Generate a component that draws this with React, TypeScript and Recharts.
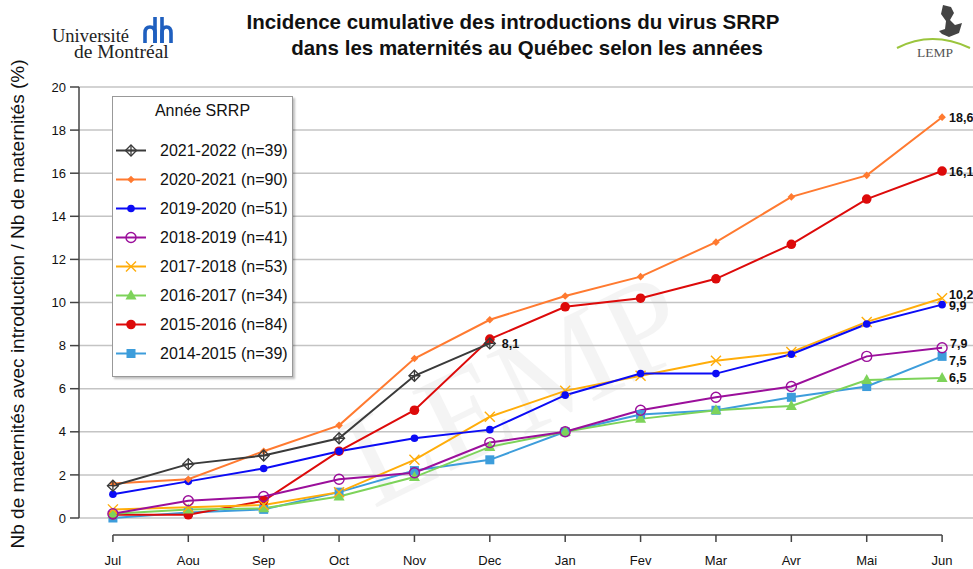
import React from 'react';
import { LineChart, Line, XAxis, YAxis, CartesianGrid, Legend, LabelList, ReferenceLine } from 'recharts';

const months = ['Jul', 'Aou', 'Sep', 'Oct', 'Nov', 'Dec', 'Jan', 'Fev', 'Mar', 'Avr', 'Mai', 'Jun'];
const yTicks = [0, 2, 4, 6, 8, 10, 12, 14, 16, 18, 20];

// cumulative incidence (%) per month, one array per season
const s2021 = [1.5, 2.5, 2.9, 3.7, 6.6, 8.1, null, null, null, null, null, null];
const s2020 = [1.6, 1.8, 3.1, 4.3, 7.4, 9.2, 10.3, 11.2, 12.8, 14.9, 15.9, 18.6];
const s2019 = [1.1, 1.7, 2.3, 3.1, 3.7, 4.1, 5.7, 6.7, 6.7, 7.6, 9.0, 9.9];
const s2018 = [0.2, 0.8, 1.0, 1.8, 2.1, 3.5, 4.0, 5.0, 5.6, 6.1, 7.5, 7.9];
const s2017 = [0.4, 0.5, 0.6, 1.2, 2.7, 4.7, 5.9, 6.6, 7.3, 7.7, 9.1, 10.2];
const s2016 = [0.2, 0.4, 0.45, 1.0, 1.9, 3.3, 4.0, 4.6, 5.0, 5.2, 6.4, 6.5];
const s2015 = [0.15, 0.15, 0.8, 3.1, 5.0, 8.3, 9.8, 10.2, 11.1, 12.7, 14.8, 16.1];
const s2014 = [0.0, 0.25, 0.4, 1.2, 2.2, 2.7, 4.0, 4.8, 5.0, 5.6, 6.1, 7.5];

const seasonNames = [
  '2021-2022 (n=39)', '2020-2021 (n=90)', '2019-2020 (n=51)', '2018-2019 (n=41)',
  '2017-2018 (n=53)', '2016-2017 (n=34)', '2015-2016 (n=84)', '2014-2015 (n=39)',
];
const seasonValues = [s2021, s2020, s2019, s2018, s2017, s2016, s2015, s2014];

// styling per season (same order as the legend)
const series = [
  { color: '#3a3a3a', shape: 'diamondPlus', labelDx: 12, labelDy: 0 },
  { color: '#ff7a30', shape: 'smallDiamond', labelDx: 7, labelDy: 0 },
  { color: '#0b0bf5', shape: 'dot', labelDx: 7, labelDy: 1 },
  { color: '#9b0f9b', shape: 'ring', labelDx: 8, labelDy: -4 },
  { color: '#ffad0a', shape: 'cross', labelDx: 7, labelDy: -4 },
  { color: '#7dd35a', shape: 'triangle', labelDx: 7, labelDy: 0 },
  { color: '#dd0a0a', shape: 'bigDot', labelDx: 7, labelDy: 0 },
  { color: '#3d9ddb', shape: 'square', labelDx: 7, labelDy: 4 },
].map((s, i) => ({
  ...s,
  key: 's' + i,
  name: seasonNames[i],
  lastIndex: seasonValues[i].reduce((acc: number, v, j) => (v == null ? acc : j), -1),
}));

const rows = months.map((m, i) => {
  const row: any = { idx: i, month: m };
  series.forEach((s, k) => { row[s.key] = seasonValues[k][i]; });
  return row;
});

const FONT = 'Liberation Sans, Arial, Helvetica, sans-serif';
const SERIF = 'Liberation Serif, Times New Roman, serif';

const drawMarker = (shape: string, color: string, cx: number, cy: number, key?: string) => {
  switch (shape) {
    case 'diamondPlus':
      return (
        <g key={key}>
          <polygon points={`${cx},${cy - 5.5} ${cx + 5.5},${cy} ${cx},${cy + 5.5} ${cx - 5.5},${cy}`} fill="none" stroke={color} strokeWidth={1.3} />
          <path d={`M${cx - 5.5},${cy}H${cx + 5.5}M${cx},${cy - 5.5}V${cy + 5.5}`} stroke={color} strokeWidth={1.3} />
        </g>
      );
    case 'smallDiamond':
      return <polygon key={key} points={`${cx},${cy - 3.8} ${cx + 3.8},${cy} ${cx},${cy + 3.8} ${cx - 3.8},${cy}`} fill={color} />;
    case 'dot':
      return <circle key={key} cx={cx} cy={cy} r={3.8} fill={color} />;
    case 'ring':
      return <circle key={key} cx={cx} cy={cy} r={5} fill="none" stroke={color} strokeWidth={1.4} />;
    case 'cross':
      return <path key={key} d={`M${cx - 5},${cy - 5}L${cx + 5},${cy + 5}M${cx - 5},${cy + 5}L${cx + 5},${cy - 5}`} stroke={color} strokeWidth={1.4} />;
    case 'triangle':
      return <polygon key={key} points={`${cx},${cy - 6} ${cx + 5.5},${cy + 4} ${cx - 5.5},${cy + 4}`} fill={color} />;
    case 'bigDot':
      return <circle key={key} cx={cx} cy={cy} r={4.8} fill={color} />;
    case 'square':
      return <rect key={key} x={cx - 4.5} y={cy - 4.5} width={9} height={9} fill={color} />;
    default:
      return <g key={key} />;
  }
};

const makeDot = (shape: string, color: string) => (props: any) => {
  const { cx, cy, index } = props;
  const key = `${shape}-${index}`;
  if (cx == null || cy == null || props.value == null) return <g key={key} />;
  return drawMarker(shape, color, cx, cy, key);
};

const makeEndLabel = (s: any) => (props: any) => {
  const { x, y, index, value } = props;
  if (value == null || index !== s.lastIndex) return null;
  return (
    <text x={x + s.labelDx} y={y + 4.5 + s.labelDy} fontSize={12.5} fontWeight="bold" fill="#111" fontFamily={FONT}>
      {Number(value).toFixed(1).replace('.', ',')}
    </text>
  );
};

const MonthTick = (props: any) => {
  const { x, y, payload } = props;
  return (
    <g>
      <line x1={x} x2={x} y1={y + 17} y2={y + 24} stroke="#444" strokeWidth={1.5} />
      <text x={x} y={y + 47} textAnchor="middle" fontSize={13} fill="#111" fontFamily={FONT}>
        {months[payload.value]}
      </text>
    </g>
  );
};

const LegendBox = () => (
  <div
    style={{
      width: 179, background: '#fff', border: '1px solid #999',
      boxShadow: '2px 2px 2px rgba(0,0,0,0.25)', fontFamily: FONT, color: '#111',
      paddingBottom: 8,
    }}
  >
    <div style={{ height: 28, lineHeight: '28px', textAlign: 'center', fontSize: 16 }}>Année SRRP</div>
    <div style={{ paddingTop: 11 }}>
      {series.map((s) => (
        <div key={s.key} style={{ height: 29, display: 'flex', alignItems: 'center' }}>
          <svg width={40} height={29} style={{ display: 'block' }}>
            <line x1={3} x2={33} y1={14.5} y2={14.5} stroke={s.color} strokeWidth={2} />
            {drawMarker(s.shape, s.color, 18, 14.5)}
          </svg>
          <span style={{ marginLeft: 7, fontSize: 16, whiteSpace: 'nowrap' }}>{s.name}</span>
        </div>
      ))}
    </div>
  </div>
);

const Decorations = () => (
  <svg width={973} height={569} style={{ position: 'absolute', left: 0, top: 0 }}>
    {/* watermark */}
    <text
      x={0} y={0} fontSize={135} fontFamily={SERIF} fill="#000" opacity={0.04}
      textAnchor="middle" transform="translate(535,430) rotate(-26)"
    >
      LEMP
    </text>
    {/* Université de Montréal */}
    <text x={52} y={42} fontSize={18.5} fontFamily={SERIF} fill="#222">Université</text>
    <text x={74} y={58} fontSize={19.5} fontFamily={SERIF} fill="#222">de Montréal</text>
    <g stroke="#1f5fbf" strokeWidth={3.6} fill="none">
      <path d="M145,43 V33 Q145,27 150,27 Q155,27 155,33 V43" />
      <path d="M155,43 V17" />
      <path d="M162,43 V17" />
      <path d="M162,43 V33 Q162,27 166.5,27 Q171,27 171,33 V43" />
    </g>
    {/* LEMP logo */}
    <path d="M897,48 Q932,30 970,48" stroke="#9bc53d" strokeWidth={2} fill="none" />
    <path
      d="M943,5 L951,7 L954,13 L950,20 L955,25 L962,23 L959,33 L949,37 L942,34 L939,31 L945,29 L946,21 L941,14 Z"
      fill="#444"
    />
    <text x={935} y={57} fontSize={13.5} textAnchor="middle" fontFamily={SERIF} fill="#555">LEMP</text>
    {/* title */}
    <text x={513} y={29} textAnchor="middle" fontSize={20.5} fontWeight="bold" fontFamily={FONT} fill="#111">
      Incidence cumulative des introductions du virus SRRP
    </text>
    <text x={527} y={55} textAnchor="middle" fontSize={20.5} fontWeight="bold" fontFamily={FONT} fill="#111">
      dans les maternités au Québec selon les années
    </text>
    {/* y axis title */}
    <text transform="translate(24,304) rotate(-90)" textAnchor="middle" fontSize={19} fontFamily={FONT} fill="#111">
      Nb de maternités avec introduction / Nb de maternités (%)
    </text>
  </svg>
);

export default function App() {
  const drawOrder = [...series].reverse();
  return (
    <div style={{ position: 'absolute', left: 0, top: 0, width: 973, height: 569, background: '#fff' }}>
      <Decorations />
      <div style={{ position: 'absolute', left: 0, top: 0 }}>
        <LineChart width={973} height={569} data={rows} margin={{ top: 87, right: 0, bottom: 0, left: 0 }}>
          <CartesianGrid vertical={false} stroke="#c4c4c4" strokeWidth={1.5} />
          <XAxis
            dataKey="idx" type="number" domain={[-0.45, 11.41]} ticks={months.map((_, i) => i)}
            height={51} axisLine={false} tickLine={false} tickSize={0} tickMargin={0}
            tick={<MonthTick />} interval={0}
          />
          <YAxis
            domain={[0, 20]} ticks={yTicks} width={79} interval={0}
            axisLine={{ stroke: '#444', strokeWidth: 1.5 }} tickLine={{ stroke: '#444', strokeWidth: 1.5 }}
            tickSize={9} tickMargin={4}
            tick={{ fill: '#111', fontSize: 13, fontFamily: FONT }}
          />
          <ReferenceLine
            segment={[{ x: 0, y: -0.79 }, { x: 11, y: -0.79 }]}
            ifOverflow="visible" stroke="#444" strokeWidth={1.5}
          />
          {drawOrder.map((s) => (
            <Line
              key={s.key} dataKey={s.key} name={s.name} stroke={s.color} strokeWidth={2}
              dot={makeDot(s.shape, s.color)} activeDot={false} isAnimationActive={false}
              connectNulls={false}
            >
              <LabelList dataKey={s.key} content={makeEndLabel(s)} />
            </Line>
          ))}
          <Legend
            layout="vertical" align="center" verticalAlign="middle"
            wrapperStyle={{ left: 112, top: 96, width: 'auto' }}
            content={() => <LegendBox />}
          />
        </LineChart>
      </div>
    </div>
  );
}
